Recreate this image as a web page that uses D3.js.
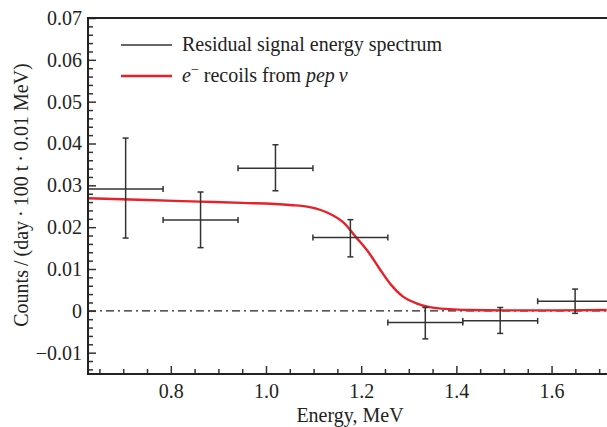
<!DOCTYPE html>
<html>
<head>
<meta charset="utf-8">
<script src="https://cdn.jsdelivr.net/npm/d3@7/dist/d3.min.js"></script>
<style>
  html, body { margin: 0; padding: 0; background: #fff; }
  svg { display: block; }
  text { font-family: "Liberation Serif", "DejaVu Serif", serif; fill: #222; }
</style>
</head>
<body>
<svg id="chart" width="607" height="427"></svg>
<script>
// ---- data ----
const binEdges = [0.6264, 0.7838, 0.9412, 1.0986, 1.2560, 1.4134, 1.5708, 1.7282];
const binValues = [0.0291, 0.0217, 0.0341, 0.0175, -0.0028, -0.0024, 0.0023];
const binErrLow = [0.0174, 0.0151, 0.0287, 0.0129, -0.0067, -0.0054, -0.0006];
const binErrHigh = [0.0413, 0.0284, 0.0397, 0.0218, 0.0008, 0.0008, 0.0052];

const curveEnergy = [0.626, 0.75, 0.861, 0.95, 1.050, 1.092, 1.134, 1.162, 1.190, 1.218, 1.239, 1.260, 1.288, 1.316, 1.344, 1.386, 1.428, 1.5, 1.6, 1.716];
const curveValue  = [0.0269, 0.0265, 0.0261, 0.0258, 0.0253, 0.0248, 0.0232, 0.0212, 0.0175, 0.0136, 0.0100, 0.0066, 0.0034, 0.0018, 0.0009, 0.0004, 0.0002, 0.0001, 0.0001, 0.0002];

const xMajorTicks = [0.8, 1.0, 1.2, 1.4, 1.6];
const xMinorTicks = [0.65, 0.7, 0.75, 0.85, 0.9, 0.95, 1.05, 1.1, 1.15, 1.25, 1.3, 1.35, 1.45, 1.5, 1.55, 1.65, 1.7];
const yMajorTicks = [-0.01, 0, 0.01, 0.02, 0.03, 0.04, 0.05, 0.06, 0.07];
const legendLabels = ["Residual signal energy spectrum", "recoils"];

// ---- layout ----
const svg = d3.select("#chart");
const L = 88, T = 18, R = 607, B = 374;
const x = d3.scaleLinear().domain([0.626, 1.7165]).range([L, R]);
const y = d3.scaleLinear().domain([-0.0151, 0.07]).range([B, T]);

const yMinorTicks = d3.range(-14, 71, 2).map(v => v / 1000).filter(v => Math.abs(Math.round(v * 1000) % 10) !== 0);

svg.append("defs").append("clipPath").attr("id", "clip")
  .append("rect").attr("x", L).attr("y", T).attr("width", R - L).attr("height", B - T);

const plot = svg.append("g").attr("clip-path", "url(#clip)");

// zero line dash-dot
plot.append("line")
  .attr("x1", L).attr("x2", R).attr("y1", y(0)).attr("y2", y(0))
  .attr("stroke", "#222").attr("stroke-width", 1.2)
  .attr("stroke-dasharray", "8,4,2,4");

// curve
const line = d3.line().x((d, i) => x(curveEnergy[i])).y(d => y(d)).curve(d3.curveMonotoneX);
plot.append("path").datum(curveValue)
  .attr("d", line).attr("fill", "none")
  .attr("stroke", "#e8202a").attr("stroke-width", 2.4);

// error bars
const bins = binValues.map((v, i) => ({
  lo: binEdges[i], hi: binEdges[i + 1], c: (binEdges[i] + binEdges[i + 1]) / 2,
  v, eL: binErrLow[i], eH: binErrHigh[i]
}));
const eb = plot.append("g").attr("stroke", "#333").attr("stroke-width", 1.5).attr("fill", "none");
const cap = 3;
bins.forEach(b => {
  eb.append("line").attr("x1", x(b.lo)).attr("x2", x(b.hi)).attr("y1", y(b.v)).attr("y2", y(b.v));
  eb.append("line").attr("x1", x(b.c)).attr("x2", x(b.c)).attr("y1", y(b.eL)).attr("y2", y(b.eH));
  eb.append("line").attr("x1", x(b.lo)).attr("x2", x(b.lo)).attr("y1", y(b.v) - cap).attr("y2", y(b.v) + cap);
  eb.append("line").attr("x1", x(b.hi)).attr("x2", x(b.hi)).attr("y1", y(b.v) - cap).attr("y2", y(b.v) + cap);
  eb.append("line").attr("x1", x(b.c) - cap).attr("x2", x(b.c) + cap).attr("y1", y(b.eL)).attr("y2", y(b.eL));
  eb.append("line").attr("x1", x(b.c) - cap).attr("x2", x(b.c) + cap).attr("y1", y(b.eH)).attr("y2", y(b.eH));
});

// axes
const fmtY = v => v === 0 ? "0" : d3.format(".2f")(v).replace("-", "\u2212");
const xAxisMajor = d3.axisBottom(x).tickValues(xMajorTicks).tickSize(-8).tickPadding(10).tickFormat(d3.format(".1f"));
const xAxisMinor = d3.axisBottom(x).tickValues(xMinorTicks).tickSize(-5).tickFormat("");
const yAxisMajor = d3.axisLeft(y).tickValues(yMajorTicks).tickSize(-8).tickPadding(6).tickFormat(fmtY);
const yAxisMinor = d3.axisLeft(y).tickValues(yMinorTicks).tickSize(-5).tickFormat("");

function styleAxis(g) {
  g.select(".domain").remove();
  g.selectAll(".tick line").attr("stroke", "#333").attr("stroke-width", 1.5);
  g.selectAll(".tick text").attr("font-family", "Liberation Serif").attr("font-size", 20).attr("fill", "#222");
}
svg.append("g").attr("transform", `translate(0,${B})`).call(xAxisMinor).call(styleAxis);
svg.append("g").attr("transform", `translate(0,${B})`).call(xAxisMajor).call(styleAxis);
svg.append("g").attr("transform", `translate(${L},0)`).call(yAxisMinor).call(styleAxis);
svg.append("g").attr("transform", `translate(${L},0)`).call(yAxisMajor).call(styleAxis);

// frame
svg.append("path")
  .attr("d", `M${R},${T}H${L}V${B}H${R}`)
  .attr("fill", "none").attr("stroke", "#222").attr("stroke-width", 2);

// axis titles
svg.append("text").attr("x", 350).attr("y", 422).attr("text-anchor", "middle")
  .attr("font-size", 20).text("Energy, MeV");
svg.append("text").attr("transform", "translate(28,195) rotate(-90)").attr("text-anchor", "middle")
  .attr("font-size", 20).text("Counts\u2009/\u2009(day\u2009\u00b7\u2009100 t\u2009\u00b7\u20090.01 MeV)");

// legend
const lg = svg.append("g");
lg.append("line").attr("x1", 121).attr("x2", 172).attr("y1", 45).attr("y2", 45)
  .attr("stroke", "#333").attr("stroke-width", 1.5);
lg.append("text").attr("x", 182).attr("y", 51).attr("font-size", 20).text(legendLabels[0]);
lg.append("line").attr("x1", 121).attr("x2", 172).attr("y1", 76).attr("y2", 76)
  .attr("stroke", "#e8202a").attr("stroke-width", 2.4);
const t2 = lg.append("text").attr("x", 182).attr("y", 82).attr("font-size", 20);
t2.append("tspan").attr("font-style", "italic").text("e");
t2.append("tspan").attr("font-size", 14).attr("dy", -8).text("\u2212");
t2.append("tspan").attr("dy", 8).text(" " + legendLabels[1] + " from ");
t2.append("tspan").attr("font-style", "italic").text("pep\u2009\u03bd");
</script>
</body>
</html>
